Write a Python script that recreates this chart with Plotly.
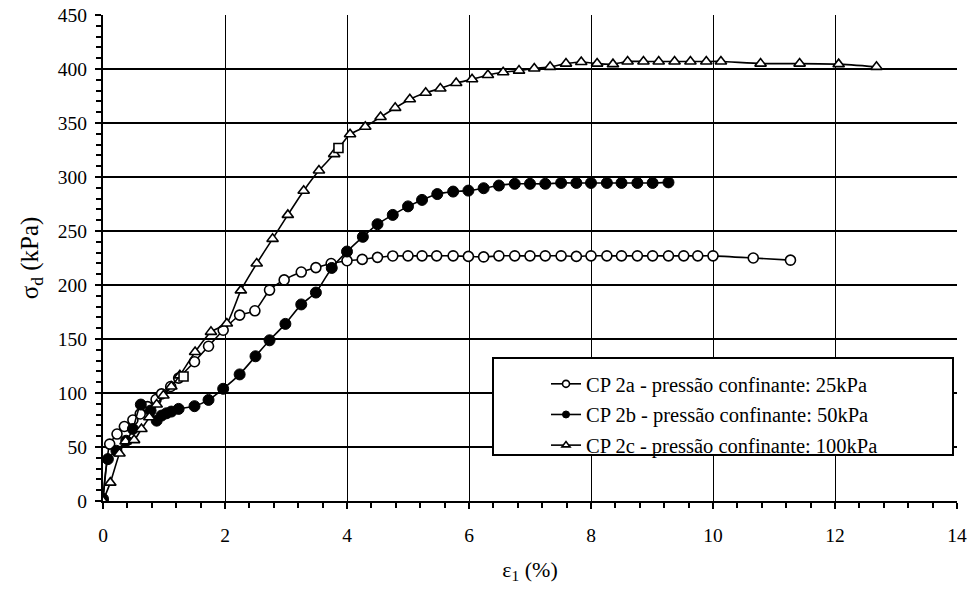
import plotly.graph_objects as go

# ---- data ----
A_x = [0, 0.11, 0.23, 0.35, 0.49, 0.61, 0.73, 0.87, 0.96, 1.11, 1.24, 1.50, 1.73, 1.97,
       2.24, 2.49, 2.73, 2.97, 3.25, 3.49, 3.74, 4.00, 4.25, 4.50, 4.75,
       5.00, 5.23, 5.47, 5.74, 5.99, 6.24, 6.49, 6.75, 7.00, 7.25, 7.51, 7.76,
       8.00, 8.26, 8.50, 8.76, 9.01, 9.27, 9.52, 9.75, 10.00, 10.66, 11.27]
A_y = [0, 52.7, 62, 69, 75, 80.6, 87.4, 94, 99.2, 106, 113.8, 129, 143.3, 158.1,
       172.1, 176.1, 195.3, 204.7, 212, 216.1, 219.9, 222.5, 223.7, 225.6, 226.9,
       227, 227, 227, 227, 226.5, 226, 227, 227, 227, 227, 227, 226.5,
       227, 227, 227, 227, 227, 227, 227, 227, 227, 225, 223]

B_x = [0, 0.08, 0.22, 0.38, 0.49, 0.62, 0.78, 0.88, 0.96, 1.04, 1.12, 1.24, 1.50,
       1.73, 1.97, 2.24, 2.50, 2.73, 2.99, 3.25, 3.49, 3.75, 4.00, 4.26, 4.50,
       4.75, 5.00, 5.23, 5.48, 5.74, 5.99, 6.24, 6.49, 6.75, 7.00, 7.25, 7.51,
       7.76, 8.00, 8.26, 8.50, 8.76, 9.01, 9.27]
B_y = [2, 38.8, 46.5, 55.8, 66.7, 89.3, 83.7, 74.4, 79.1, 81.2, 82.8, 85.3, 87.8,
       93.6, 103.9, 117.2, 134, 148.8, 164, 182, 193, 215.8, 231, 244.6, 256.3,
       264.9, 272.8, 278.8, 284.2, 286.5, 287.4, 289.6, 292.1, 293.7, 293.7, 293.7, 294.5,
       294.5, 294.5, 294.5, 294.5, 294.5, 294.5, 295]

C_x = [0, 0.12, 0.27, 0.37, 0.51, 0.63, 0.76, 0.88, 0.99, 1.12, 1.26, 1.51, 1.77,
       2.03, 2.26, 2.52, 2.78, 3.03, 3.29, 3.54, 3.79, 4.05, 4.30, 4.55, 4.79,
       5.03, 5.29, 5.53, 5.79, 6.05, 6.31, 6.56, 6.82, 7.07, 7.33, 7.59, 7.84,
       8.10, 8.36, 8.60, 8.86, 9.11, 9.37, 9.63, 9.89, 10.13, 10.78, 11.42, 12.06, 12.68]
C_y = [0, 17, 44, 55.2, 56.4, 66.7, 77.5, 89.3, 97.7, 106, 116.3, 138, 156.6,
       164.3, 195, 219.9, 242.7, 264.9, 287.3, 306, 321.2, 339.6, 346.5, 355.5, 364,
       372, 378, 382, 387, 390.5, 394.5, 397, 398.5, 400.5, 402, 405, 406.5,
       405, 404.5, 407, 407, 407, 407, 407, 407, 407, 405, 405, 404.5, 402]

SQ_x = [1.32, 3.86]
SQ_y = [115.3, 326.9]

names = ["CP 2a - pressão confinante: 25kPa",
         "CP 2b - pressão confinante: 50kPa",
         "CP 2c - pressão confinante: 100kPa"]

x_ticks = [0, 2, 4, 6, 8, 10, 12, 14]
y_ticks = [0, 50, 100, 150, 200, 250, 300, 350, 400, 450]

# ---- layout geometry (pixels) ----
W, H = 975, 597
L, R, T, B = 103, 957, 15, 501
pw, ph = R - L, B - T
FONT = "Liberation Serif, Times New Roman, serif"


def px(xp):
    return (xp - L) / pw


def py(yp):
    return (B - yp) / ph


line_style = dict(color="black", width=1.6, shape="spline", smoothing=0.5)
styles = [
    dict(symbol="circle", color="white", line=dict(color="black", width=1.6)),
    dict(symbol="circle", color="black", line=dict(color="black", width=1)),
    dict(symbol="triangle-up", color="white", line=dict(color="black", width=1.6)),
]
sizes = [10, 11, 10]
series = [(A_x, A_y), (B_x, B_y), (C_x, C_y)]

fig = go.Figure()
for i, (xs, ys) in enumerate(series):
    fig.add_trace(go.Scatter(
        x=xs, y=ys, name=names[i], mode="lines+markers", showlegend=False,
        line=line_style, marker=dict(size=sizes[i], **styles[i])))
fig.add_trace(go.Scatter(
    x=SQ_x, y=SQ_y, mode="markers", showlegend=False, hoverinfo="skip",
    marker=dict(symbol="square", size=9, color="white", line=dict(color="black", width=1.6))))
# legend entries (smaller symbols as in the reference legend)
for i in range(3):
    fig.add_trace(go.Scatter(
        x=[None], y=[None], name=names[i], mode="lines+markers", legendgroup=str(i),
        line=dict(color="black", width=1.6), marker=dict(size=7, **styles[i])))

# legend frame
fig.add_shape(type="rect", xref="paper", yref="paper",
              x0=px(493), x1=px(953), y0=py(455), y1=py(358),
              fillcolor="white", line=dict(color="black", width=2), layer="above")

fig.update_layout(
    width=W, height=H,
    margin=dict(l=L, r=W - R, t=T, b=H - B, autoexpand=False),
    paper_bgcolor="white", plot_bgcolor="white",
    font=dict(family=FONT, color="black", size=19),
    showlegend=True,
    legend=dict(x=px(546), y=py(364), xanchor="left", yanchor="top",
                bgcolor="rgba(0,0,0,0)", borderwidth=0,
                font=dict(family=FONT, size=20.5, color="black"),
                tracegroupgap=1),
    xaxis=dict(range=[0, 14], tickvals=x_ticks, ticktext=[str(v) for v in x_ticks],
               showgrid=True, gridcolor="black", gridwidth=1, zeroline=False,
               showline=True, linecolor="black", linewidth=2,
               ticks="outside", ticklen=6, tickwidth=1.5, tickcolor="black",
               ticklabelstandoff=10,
               minor=dict(dtick=0.4, tick0=0, ticks="outside", ticklen=5, tickwidth=1.5,
                          tickcolor="black", showgrid=False),
               title=dict(text="ε<sub>1</sub> (%)", font=dict(family=FONT, size=22), standoff=16),
               tickfont=dict(family=FONT, size=19.5, color="black")),
    yaxis=dict(range=[0, 450], tickvals=y_ticks, ticktext=[str(v) for v in y_ticks],
               showgrid=True, gridcolor="black", gridwidth=2, zeroline=False,
               showline=True, linecolor="black", linewidth=2,
               ticks="outside", ticklen=6, tickwidth=1.5, tickcolor="black",
               ticklabelstandoff=4,
               minor=dict(dtick=10, tick0=0, ticks="outside", ticklen=5, tickwidth=1.5,
                          tickcolor="black", showgrid=False),
               title=dict(text="σ<sub>d</sub> (kPa)", font=dict(family=FONT, size=25), standoff=12),
               tickfont=dict(family=FONT, size=19.5, color="black")),
)

fig.write_html("out.html")
